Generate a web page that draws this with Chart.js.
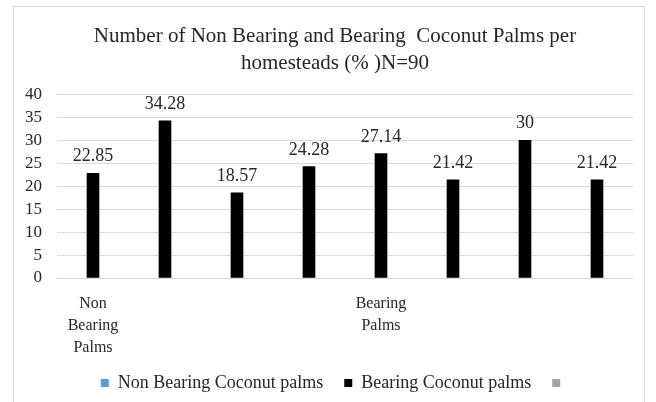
<!DOCTYPE html>
<html>
<head>
<meta charset="utf-8">
<style>
  html, body { margin: 0; padding: 0; background: #ffffff; }
  #wrap { width: 656px; height: 402px; }
</style>
<script src="https://cdn.jsdelivr.net/npm/chart.js@4/dist/chart.umd.min.js"></script>
</head>
<body>
<div id="wrap"><canvas id="c" width="656" height="402"></canvas></div>
<script>
const categories = [['Non', 'Bearing', 'Palms'], '', '', '', ['Bearing', 'Palms'], '', '', ''];
const bearingValues = [22.85, 34.28, 18.57, 24.28, 27.14, 21.42, 30, 21.42];
const nonBearingValues = [];
const emptySeriesValues = [];
const seriesNames = ['Non Bearing Coconut palms', 'Bearing Coconut palms', ''];
const titleLines = ['Number of Non Bearing and Bearing  Coconut Palms per', 'homesteads (% )N=90'];
const yMin = 0, yMax = 40, yStep = 5;

const FONT = "'Liberation Serif', 'Times New Roman', serif";

const frame = {
  id: 'frame',
  beforeDraw(chart) {
    const ctx = chart.ctx;
    ctx.save();
    ctx.fillStyle = '#ffffff';
    ctx.fillRect(0, 0, chart.width, chart.height);
    ctx.strokeStyle = '#d9d9d9';
    ctx.lineWidth = 1;
    ctx.strokeRect(13.5, 6.5, 631, 420);
    ctx.restore();
  }
};

const valueLabels = {
  id: 'valueLabels',
  afterDatasetsDraw(chart) {
    const ctx = chart.ctx;
    const meta = chart.getDatasetMeta(1);
    ctx.save();
    ctx.font = '18px ' + FONT;
    ctx.fillStyle = '#262626';
    ctx.textAlign = 'center';
    ctx.textBaseline = 'alphabetic';
    meta.data.forEach((bar, i) => {
      ctx.fillText(String(bearingValues[i]), bar.x, bar.y - 12);
    });
    ctx.restore();
  }
};

new Chart(document.getElementById('c'), {
  type: 'bar',
  data: {
    labels: categories,
    datasets: [
      { label: seriesNames[0], data: nonBearingValues, backgroundColor: '#5b9bd5' },
      { label: seriesNames[1], data: bearingValues, backgroundColor: '#000000' },
      { label: seriesNames[2], data: emptySeriesValues, backgroundColor: '#a5a5a5' }
    ]
  },
  options: {
    responsive: false,
    animation: false,
    devicePixelRatio: 1,
    datasets: { bar: { grouped: false, barThickness: 12 } },
    layout: { padding: { left: 22, right: 8, top: 0, bottom: 0 } },
    plugins: {
      title: {
        display: true,
        text: titleLines,
        color: '#262626',
        font: { family: FONT, size: 21, weight: 'normal', lineHeight: 1.3 },
        padding: { top: 23, bottom: 17 }
      },
      legend: {
        display: true,
        position: 'bottom',
        labels: {
          color: '#262626',
          font: { family: FONT, size: 18 },
          boxWidth: 8,
          boxHeight: 8,
          padding: 21
        }
      },
      tooltip: { enabled: false }
    },
    scales: {
      x: {
        grid: { display: false, drawTicks: false },
        border: { display: false },
        ticks: {
          color: '#262626',
          font: { family: FONT, size: 16, lineHeight: 1.375 },
          autoSkip: false,
          maxRotation: 0,
          minRotation: 0,
          padding: 15
        },
        afterFit(scale) { scale.height = 75; }
      },
      y: {
        min: yMin,
        max: yMax,
        grid: { color: '#d9d9d9', drawTicks: false },
        border: { display: false },
        ticks: {
          stepSize: yStep,
          autoSkip: false,
          color: '#262626',
          font: { family: FONT, size: 17 },
          padding: 15
        },
        afterFit(scale) { scale.width = 35; }
      },
      rightGap: {
        type: 'linear',
        position: 'right',
        display: true,
        grid: { display: false, drawTicks: false },
        border: { display: false },
        ticks: { display: false },
        afterFit(scale) { scale.width = 15; }
      }
    }
  },
  plugins: [frame, valueLabels]
});
</script>
</body>
</html>
